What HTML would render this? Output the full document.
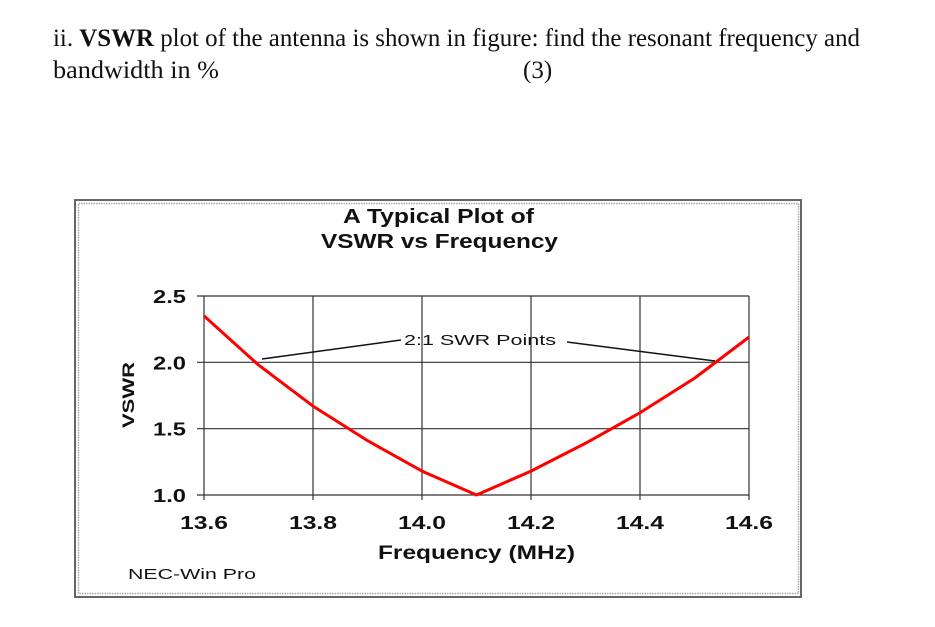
<!DOCTYPE html>
<html><head><meta charset="utf-8"><style>
body{margin:0;background:#fff;width:935px;height:627px;overflow:hidden}
svg{display:block}
.a{font-family:"Liberation Sans",sans-serif;font-weight:bold;fill:#111}
</style></head><body>
<svg width="935" height="627">
<text font-family="Liberation Serif, serif" font-size="25" fill="#111" x="53" y="46" textLength="807" lengthAdjust="spacingAndGlyphs">ii. <tspan font-weight="bold">VSWR</tspan> plot of the antenna is shown in figure: find the resonant frequency and</text>
<text font-family="Liberation Serif, serif" font-size="25" fill="#111" x="53" y="78" textLength="166" lengthAdjust="spacingAndGlyphs">bandwidth  in %</text>
<text font-family="Liberation Serif, serif" font-size="25" fill="#111" x="523" y="78">(3)</text>
<rect x="75" y="200" width="726" height="397" fill="none" stroke="#666" stroke-width="2"/>
<rect x="78.5" y="203.5" width="720" height="390" fill="none" stroke="#aaa" stroke-width="1.5" stroke-dasharray="1.5 1"/>
<text class="a" x="343" y="223" font-size="20" textLength="191" lengthAdjust="spacingAndGlyphs">A Typical Plot of</text>
<text class="a" x="321" y="248" font-size="20" textLength="237" lengthAdjust="spacingAndGlyphs">VSWR vs Frequency</text>
<g id="grid"></g>
<g id="axes"></g>
<text class="a" x="134" y="395" font-size="17" text-anchor="middle" textLength="66" lengthAdjust="spacingAndGlyphs" transform="rotate(-90 134 395)">VSWR</text>
<text class="a" x="378" y="559" font-size="19" textLength="197" lengthAdjust="spacingAndGlyphs">Frequency (MHz)</text>
<text x="128" y="579" font-family="Liberation Sans,sans-serif" font-size="15" fill="#111" textLength="128" lengthAdjust="spacingAndGlyphs">NEC-Win Pro</text>
<line x1="262" y1="359" x2="401" y2="340" stroke="#111" stroke-width="1.5"/>
<line x1="567" y1="342" x2="715" y2="361" stroke="#111" stroke-width="1.5"/>
<text x="404" y="345" font-family="Liberation Sans,sans-serif" font-size="15" fill="#111" textLength="152" lengthAdjust="spacingAndGlyphs">2:1 SWR Points</text>
<g id="series"></g>
</svg>
<script>
const xTicks=[13.6,13.8,14.0,14.2,14.4,14.6];
const xTickLabels=["13.6","13.8","14.0","14.2","14.4","14.6"];
const yTicks=[1.0,1.5,2.0,2.5];
const yTickLabels=["1.0","1.5","2.0","2.5"];
const freq=[13.6,13.7,13.8,13.9,14.0,14.1,14.2,14.3,14.4,14.5,14.6];
const vswr=[2.35,1.98,1.67,1.41,1.18,1.0,1.18,1.39,1.62,1.88,2.19];
const X0=204,X1=749,Y0=495,Y1=296;
const xs=v=>X0+(v-13.6)/(14.6-13.6)*(X1-X0);
const ys=v=>Y0-(v-1.0)/(2.5-1.0)*(Y0-Y1);
const NS="http://www.w3.org/2000/svg";
function mk(t,a,p){const e=document.createElementNS(NS,t);for(const k in a)e.setAttribute(k,a[k]);p.appendChild(e);return e;}
const g=document.getElementById('grid'),ax=document.getElementById('axes'),se=document.getElementById('series');
xTicks.forEach((v,i)=>{
 const l=mk('line',{x1:xs(v),x2:xs(v),y1:Y1,y2:Y0+5,stroke:'#333','stroke-width':1.2},g);
 
 
 const t=mk('text',{x:xs(v)-24,y:529,'font-size':18,class:'a',textLength:48,lengthAdjust:'spacingAndGlyphs'},ax);
 t.textContent=xTickLabels[i];
 
 
});
yTicks.forEach((v,i)=>{
 const l=mk('line',{x1:X0-7,x2:X1,y1:ys(v),y2:ys(v),stroke:'#333','stroke-width':1.2},g);
 
 
 const t=mk('text',{x:153,y:ys(v)+7,'font-size':18,class:'a',textLength:33,lengthAdjust:'spacingAndGlyphs'},ax);
 t.textContent=yTickLabels[i];
 
 
});
const pts=freq.map((f,i)=>xs(f)+','+ys(vswr[i])).join(' ');
const pl=mk('polyline',{points:pts,fill:'none',stroke:'#f00','stroke-width':3,'stroke-linejoin':'round'},se);


</script>
</body></html>
